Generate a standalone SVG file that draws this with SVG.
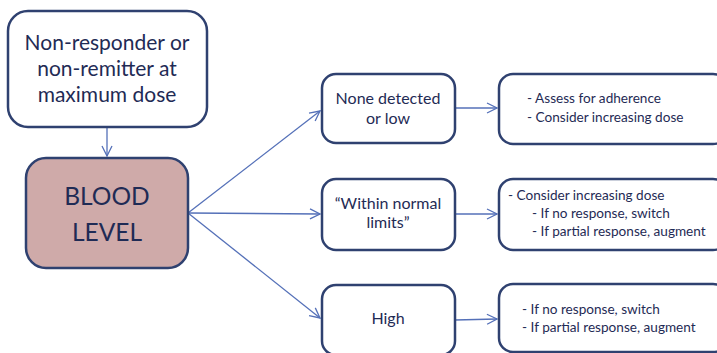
<svg xmlns="http://www.w3.org/2000/svg" width="717" height="353" viewBox="0 0 717 353">
<style>
.box{fill:#ffffff;stroke:#2f4170;stroke-width:2.5}
.blood{fill:#cfaaa9;stroke:#2f4170;stroke-width:2.5}
text{font-family:Lato,"Open Sans",sans-serif;fill:#1f2b55}
.big{font-size:21px;text-anchor:middle}
.huge{font-size:24.5px;text-anchor:middle}
.mid{font-size:16px;text-anchor:middle}
.sm{font-size:13.6px}
.con{stroke:#5470b8;stroke-width:1.3;fill:none;marker-end:url(#ah)}
</style>
<defs>
<marker id="ah" viewBox="0 0 12 12" refX="11" refY="6" markerWidth="12" markerHeight="12" markerUnits="userSpaceOnUse" orient="auto">
<polyline points="1,1 11,6 1,11" fill="none" stroke="#5470b8" stroke-width="1.3"/>
</marker>
</defs>
<rect width="717" height="353" fill="#ffffff"/>
<g id="connectors">
<line class="con" x1="107" y1="127" x2="107" y2="156"/>
<line class="con" x1="188" y1="213" x2="320" y2="111"/>
<line class="con" x1="188" y1="213" x2="320" y2="214"/>
<line class="con" x1="188" y1="213" x2="320" y2="318"/>
<line class="con" x1="455" y1="108" x2="497" y2="108"/>
<line class="con" x1="455" y1="214" x2="497" y2="214"/>
<line class="con" x1="455" y1="320" x2="497" y2="319"/>
</g>
<g id="start">
<rect class="box" x="8" y="11" width="199" height="116" rx="20"/>
<text class="big" x="107" y="50">Non-responder or</text>
<text class="big" x="107" y="76">non-remitter at</text>
<text class="big" x="107" y="102">maximum dose</text>
</g>
<g id="blood">
<rect class="blood" x="26" y="158" width="162" height="110" rx="20"/>
<text class="huge" x="107" y="205">BLOOD</text>
<text class="huge" x="107" y="241">LEVEL</text>
</g>
<g id="low">
<rect class="box" x="322" y="74" width="133" height="69" rx="14"/>
<text class="mid" x="388" y="104">None detected</text>
<text class="mid" x="388" y="124">or low</text>
</g>
<g id="normal">
<rect class="box" x="322" y="179" width="133" height="71" rx="14"/>
<text class="mid" x="388" y="209">“Within normal</text>
<text class="mid" x="388" y="228">limits”</text>
</g>
<g id="high">
<rect class="box" x="322" y="285" width="133" height="70" rx="14"/>
<text class="mid" x="388" y="324">High</text>
</g>
<g id="low-action">
<rect class="box" x="499" y="74" width="228" height="70" rx="14"/>
<text class="sm" x="527" y="103">- Assess for adherence</text>
<text class="sm" x="527" y="122">- Consider increasing dose</text>
</g>
<g id="normal-action">
<rect class="box" x="499" y="179" width="228" height="71" rx="14"/>
<text class="sm" x="508" y="200">- Consider increasing dose</text>
<text class="sm" x="532" y="218">- If no response, switch</text>
<text class="sm" x="532" y="236">- If partial response, augment</text>
</g>
<g id="high-action">
<rect class="box" x="499" y="284" width="228" height="68" rx="14"/>
<text class="sm" x="522" y="314">- If no response, switch</text>
<text class="sm" x="522" y="332">- If partial response, augment</text>
</g>
</svg>
